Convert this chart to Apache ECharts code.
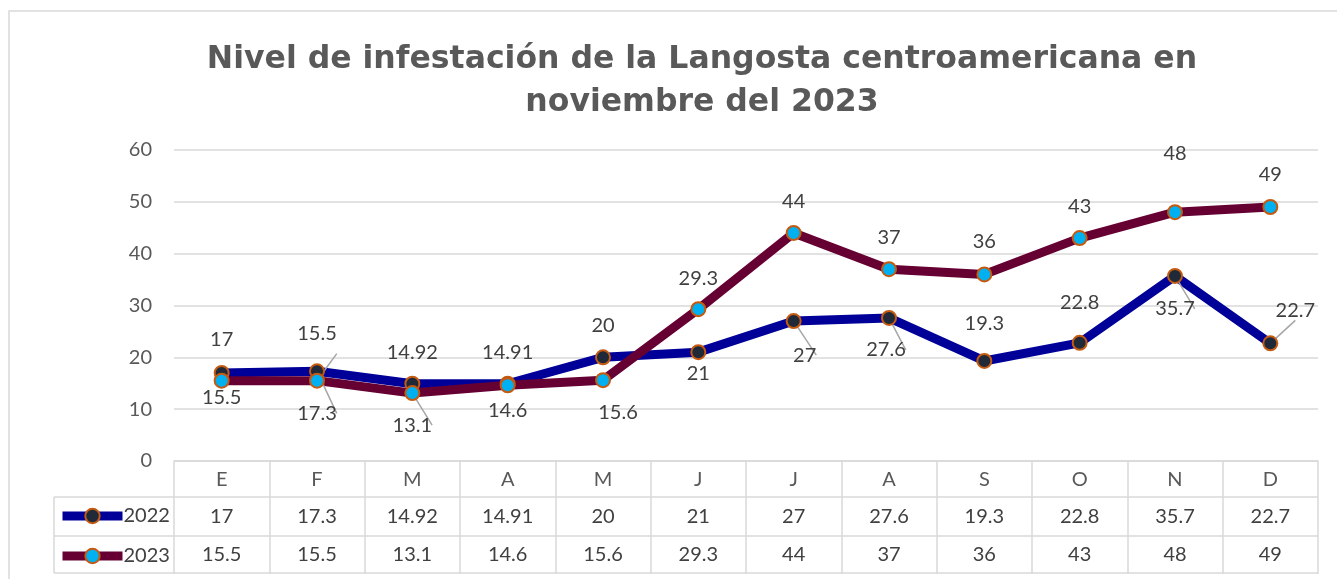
<!DOCTYPE html>
<html>
<head>
<meta charset="utf-8">
<script src="https://cdn.jsdelivr.net/npm/echarts@6/dist/echarts.min.js"></script>
<style>
  html, body { margin: 0; padding: 0; background: #fff; }
  #main { width: 1337px; height: 579px; }
</style>
</head>
<body>
<div id="main"></div>
<script>
// datos
var meses = ['E', 'F', 'M', 'A', 'M', 'J', 'J', 'A', 'S', 'O', 'N', 'D'];
var nivel2022 = [17, 17.3, 14.92, 14.91, 20, 21, 27, 27.6, 19.3, 22.8, 35.7, 22.7];
var nivel2023 = [15.5, 15.5, 13.1, 14.6, 15.6, 29.3, 44, 37, 36, 43, 48, 49];
var ticksY = [0, 10, 20, 30, 40, 50, 60];

// desplazamiento de etiquetas [dx, dy] respecto al punto (como quedaron movidas en Excel)
var desp2022 = [[0, -33], [0, 42], [0, -31], [0, -31], [0, -32], [0, 21], [11, 34], [-3, 32], [0, -37], [0, -40], [0, 33], [25, -33]];
var desp2023 = [[0, 17], [0, -47], [0, 32], [0, 25], [15, 32], [0, -31], [0, -31], [0, -32], [0, -33], [0, -32], [0, -59], [0, -32]];
// puntos con linea guia
var guia2022 = [false, true, false, false, false, false, true, true, false, false, true, true];
var guia2023 = [false, true, true, false, false, false, false, false, false, false, false, false];

var myChart = echarts.init(document.getElementById('main'));

var gris = '#d9d9d9';
var texto = '#404040';
var fuente = 'Lato';

function puntos(valores, desp, guia) {
  return valores.map(function (v, i) {
    return {
      value: v,
      label: { offset: desp[i] },
      labelLine: { show: guia[i] }
    };
  });
}

function serie(nombre, valores, colorLinea, colorPunto, desp, guia) {
  return {
    name: nombre,
    type: 'line',
    data: puntos(valores, desp, guia),
    symbol: 'circle',
    symbolSize: 14,
    lineStyle: { color: colorLinea, width: 9 },
    itemStyle: { color: colorPunto, borderColor: '#c55a11', borderWidth: 2 },
    label: {
      show: true,
      position: 'inside',
      color: texto,
      fontSize: 20,
      fontFamily: fuente
    },
    labelLine: { lineStyle: { color: '#a6a6a6', width: 1.5 } },
    emphasis: { disabled: true },
    animation: false
  };
}

// filas de la tabla de datos bajo el eje
function ejeTabla(valores, offset) {
  return {
    type: 'category',
    position: 'bottom',
    offset: offset,
    data: meses,
    axisLine: { show: false },
    axisTick: { show: false },
    axisLabel: {
      margin: 9,
      color: texto,
      fontSize: 20,
      fontFamily: fuente,
      formatter: function (v, i) { return valores[i]; }
    }
  };
}

var option = {
  backgroundColor: '#fff',
  title: {
    text: 'Nivel de infestación de la Langosta centroamericana en\nnoviembre del 2023',
    left: 697,
    top: 33,
    textAlign: 'center',
    textStyle: {
      fontFamily: 'DejaVu Sans',
      fontWeight: 'bold',
      fontSize: 31.5,
      lineHeight: 43,
      color: '#595959'
    }
  },
  legend: {
    orient: 'vertical',
    left: 58,
    top: 506,
    padding: 0,
    itemWidth: 60,
    itemHeight: 18,
    itemGap: 20,
    lineStyle: { width: 9 },
    textStyle: { color: texto, fontSize: 20, fontFamily: fuente, padding: [0, 0, 0, -4] },
    data: ['2022', '2023']
  },
  grid: { left: 174, right: 19, top: 150, bottom: 118 },
  xAxis: [
    {
      type: 'category',
      data: meses,
      axisLine: { lineStyle: { color: gris, width: 1.5 } },
      axisTick: { show: true, length: 113, lineStyle: { color: gris, width: 1.5 } },
      axisLabel: { margin: 9, color: '#595959', fontSize: 20, fontFamily: fuente }
    },
    ejeTabla(nivel2022, 37),
    ejeTabla(nivel2023, 75)
  ],
  yAxis: {
    type: 'value',
    min: ticksY[0],
    max: ticksY[ticksY.length - 1],
    interval: 10,
    axisLine: { show: false },
    axisTick: { show: false },
    splitLine: { lineStyle: { color: gris, width: 1.5 } },
    axisLabel: { margin: 22, color: '#595959', fontSize: 20, fontFamily: fuente }
  },
  graphic: [
    { type: 'rect', shape: { x: 9, y: 11, width: 1345, height: 600 }, style: { fill: 'none', stroke: gris, lineWidth: 1.5 }, silent: true },
    { type: 'line', shape: { x1: 54, y1: 497, x2: 1318, y2: 497 }, style: { stroke: gris, lineWidth: 1.5 }, silent: true },
    { type: 'line', shape: { x1: 54, y1: 536, x2: 1318, y2: 536 }, style: { stroke: gris, lineWidth: 1.5 }, silent: true },
    { type: 'line', shape: { x1: 54, y1: 573, x2: 1318, y2: 573 }, style: { stroke: gris, lineWidth: 1.5 }, silent: true },
    { type: 'line', shape: { x1: 54, y1: 497, x2: 54, y2: 573 }, style: { stroke: gris, lineWidth: 1.5 }, silent: true }
  ],
  series: [
    serie('2022', nivel2022, '#000099', '#1f2937', desp2022, guia2022),
    serie('2023', nivel2023, '#660033', '#00b0f0', desp2023, guia2023)
  ]
};

myChart.setOption(option);
</script>
</body>
</html>
